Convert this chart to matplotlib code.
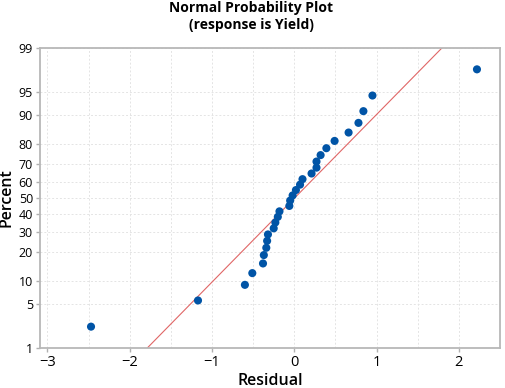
import matplotlib
matplotlib.use("Agg")
import matplotlib.pyplot as plt
import numpy as np
from statistics import NormalDist

# residuals (sorted), with their plotted percents
residuals = [-2.47, -1.17, -0.60, -0.51, -0.38, -0.37, -0.34, -0.33, -0.32, -0.25,
             -0.23, -0.20, -0.18, -0.06, -0.05, -0.02, 0.02, 0.07, 0.10, 0.21,
             0.27, 0.27, 0.32, 0.39, 0.49, 0.66, 0.78, 0.84, 0.95, 2.22]
percents = [2.3, 5.6, 8.9, 12.2, 15.5, 18.8, 22.0, 25.3, 28.6, 31.9,
            35.2, 38.5, 41.8, 45.1, 48.4, 51.6, 54.9, 58.2, 61.5, 64.8,
            68.1, 71.4, 74.7, 78.0, 81.2, 84.5, 87.8, 91.1, 94.4, 97.7]
pct_ticks = [1, 5, 10, 20, 30, 40, 50, 60, 70, 80, 90, 95, 99]
x_ticks = [-3, -2, -1, 0, 1, 2]

nd = NormalDist()
def z(p):
    return nd.inv_cdf(p / 100.0)

plt.rcParams['font.family'] = ['Open Sans', 'DejaVu Sans']

fig = plt.figure(figsize=(5.05, 3.88), dpi=100)
ax = fig.add_axes([40/505, 40/388, 460/505, 300/388])

# fitted normal line
mu = np.mean(residuals)
sd = np.std(residuals, ddof=1)
zz = np.linspace(z(0.5), z(99.5), 50)
ax.plot(mu + sd*zz, zz, color='#e06666', lw=0.8, zorder=2)

ax.scatter(residuals, [z(p) for p in percents], s=34, color='#0054a6',
           edgecolors='none', zorder=3)

ax.set_xlim(-3.09, 2.46)
ax.set_ylim(z(1), z(99))
ax.set_xticks(x_ticks)
ax.set_xticks(np.arange(-3, 2.6, 0.5), minor=True)
ax.set_yticks([z(p) for p in pct_ticks])
ax.set_yticklabels([str(p) for p in pct_ticks])
ax.tick_params(axis='y', which='major', labelsize=9, length=3, color='#b0b0b0',
               width=1, pad=2)
ax.tick_params(axis='x', which='major', labelsize=10.5, length=3, color='#b0b0b0',
               width=1, pad=2)
ax.tick_params(axis='x', which='minor', length=0)
ax.grid(True, which='both', axis='x', ls=(0, (2, 2)), color='#e4e4e4', lw=0.7)
ax.grid(True, which='major', axis='y', ls=(0, (2, 2)), color='#e4e4e4', lw=0.7)
ax.set_axisbelow(True)
for s in ax.spines.values():
    s.set_color('#b8b8b8')
    s.set_linewidth(1.3)

ax.set_xlabel('Residual', fontsize=11.5, fontweight='semibold', labelpad=2)
ax.set_ylabel('Percent', fontsize=11.5, fontweight='semibold', labelpad=3)
fig.text(0.497, 0.997, 'Normal Probability Plot\n(response is Yield)', ha='center',
         va='top', fontsize=10, fontweight='bold', linespacing=1.3)

fig.savefig('out.png', dpi=100)
